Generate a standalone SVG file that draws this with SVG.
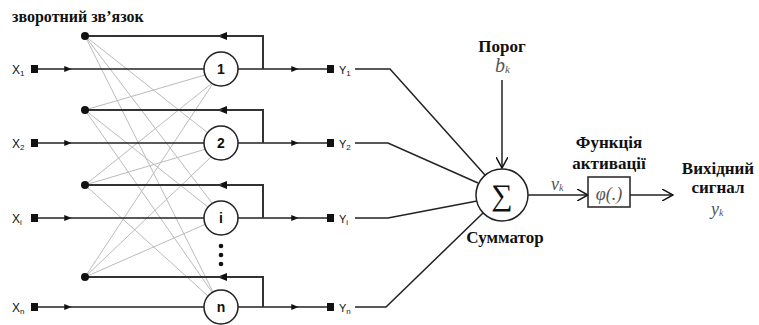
<svg xmlns="http://www.w3.org/2000/svg" width="759" height="325" viewBox="0 0 759 325">
<defs>
<marker id="sa" viewBox="0 0 10 10" refX="5" refY="5" markerWidth="5" markerHeight="5" orient="auto"><path d="M0,1 L10,5 L0,9 z" fill="#111"/></marker>
<marker id="ba" viewBox="0 0 12 12" refX="11" refY="6" markerWidth="12" markerHeight="12" markerUnits="userSpaceOnUse" orient="auto"><path d="M0,0 L11,6 L0,12" fill="none" stroke="#111" stroke-width="1.5"/></marker>
</defs>
<style>
.ln{stroke:#222;stroke-width:1.5;fill:none}
.fb{stroke:#333;stroke-width:2;fill:none}
.gr{stroke:#bbb;stroke-width:1;fill:none}
.nc{fill:#fff;stroke:#222;stroke-width:1.5}
.sans{fill:#111}
.nl{font-weight:bold;font-size:14px;fill:#111;text-anchor:middle}
.bt{font-weight:bold;fill:#111}
.it{font-style:italic;fill:#555}
.sq{fill:#111}
.ser{font-family:'Liberation Serif','Times New Roman','DejaVu Serif','Noto Serif',serif}
</style>
<rect width="759" height="325" fill="#fff"/>
<text class="bt ser" x="12" y="22" font-size="16">зворотний зв’язок</text>
<g id="connectors">
<line class="gr" x1="85" y1="36" x2="208" y2="133"/>
<line class="gr" x1="85" y1="36" x2="212" y2="203"/>
<line class="gr" x1="85" y1="36" x2="213" y2="292"/>
<line class="gr" x1="85" y1="110" x2="205" y2="75"/>
<line class="gr" x1="85" y1="110" x2="208" y2="207"/>
<line class="gr" x1="85" y1="110" x2="212" y2="292"/>
<line class="gr" x1="85" y1="185" x2="211" y2="84"/>
<line class="gr" x1="85" y1="185" x2="206" y2="149"/>
<line class="gr" x1="85" y1="185" x2="208" y2="296"/>
<line class="gr" x1="85" y1="277" x2="212" y2="85"/>
<line class="gr" x1="85" y1="277" x2="211" y2="157"/>
<line class="gr" x1="85" y1="277" x2="206" y2="224"/>
<path class="ln" d="M38,69 L68,69" marker-end="url(#sa)"/><path class="ln" d="M68,69 L204,69"/>
<path class="ln" d="M38,143 L68,143" marker-end="url(#sa)"/><path class="ln" d="M68,143 L204,143"/>
<path class="ln" d="M38,218 L68,218" marker-end="url(#sa)"/><path class="ln" d="M68,218 L204,218"/>
<path class="ln" d="M38,307 L68,307" marker-end="url(#sa)"/><path class="ln" d="M68,307 L204,307"/>
<path class="ln" d="M238,69 L295,69" marker-end="url(#sa)"/><path class="ln" d="M295,69 L328,69"/>
<path class="ln" d="M238,143 L295,143" marker-end="url(#sa)"/><path class="ln" d="M295,143 L328,143"/>
<path class="ln" d="M238,218 L295,218" marker-end="url(#sa)"/><path class="ln" d="M295,218 L328,218"/>
<path class="ln" d="M238,307 L295,307" marker-end="url(#sa)"/><path class="ln" d="M295,307 L328,307"/>
<path class="fb" d="M263,69 L263,36 L222,36" marker-end="url(#sa)"/><path class="fb" d="M222,36 L85,36"/>
<path class="fb" d="M263,143 L263,110 L222,110" marker-end="url(#sa)"/><path class="fb" d="M222,110 L85,110"/>
<path class="fb" d="M263,218 L263,185 L222,185" marker-end="url(#sa)"/><path class="fb" d="M222,185 L85,185"/>
<path class="fb" d="M263,307 L263,277 L222,277" marker-end="url(#sa)"/><path class="fb" d="M222,277 L85,277"/>
<path class="ln" d="M355,69 L390,69 L485,175"/>
<path class="ln" d="M355,143 L388,143 L478,183"/>
<path class="ln" d="M355,218 L388,218 L477,201"/>
<path class="ln" d="M355,307 L386,307 L483,213"/>
<path class="ln" d="M502,80 L502,168" marker-end="url(#ba)"/>
<path class="ln" d="M528,195 L588,195" marker-end="url(#ba)"/>
<path class="ln" d="M630,195 L673,195" marker-end="url(#ba)"/>
</g>
<g id="dots">
<circle cx="85" cy="36" r="4" fill="#111"/>
<circle cx="85" cy="110" r="4" fill="#111"/>
<circle cx="85" cy="185" r="4" fill="#111"/>
<circle cx="85" cy="277" r="4" fill="#111"/>
<circle cx="221" cy="246" r="2.3" fill="#111"/>
<circle cx="221" cy="255" r="2.3" fill="#111"/>
<circle cx="221" cy="264" r="2.3" fill="#111"/>
</g>
<g id="inputs" font-family="Liberation Sans, Arial, sans-serif">
<rect class="sq" x="31" y="65" width="7" height="8"/>
<rect class="sq" x="31" y="139" width="7" height="8"/>
<rect class="sq" x="31" y="214" width="7" height="8"/>
<rect class="sq" x="31" y="303" width="7" height="8"/>
<text class="sans" x="12" y="74" font-size="12">X<tspan font-size="8" dy="2">1</tspan></text>
<text class="sans" x="12" y="148" font-size="12">X<tspan font-size="8" dy="2">2</tspan></text>
<text class="sans" x="12" y="223" font-size="12">X<tspan font-size="8" dy="2">i</tspan></text>
<text class="sans" x="12" y="312" font-size="12">X<tspan font-size="8" dy="2">n</tspan></text>
</g>
<g id="outputs" font-family="Liberation Sans, Arial, sans-serif">
<rect class="sq" x="327" y="65" width="7" height="8"/>
<rect class="sq" x="327" y="139" width="7" height="8"/>
<rect class="sq" x="327" y="214" width="7" height="8"/>
<rect class="sq" x="327" y="303" width="7" height="8"/>
<text class="sans" x="339" y="74" font-size="11">Y<tspan font-size="8" dy="2">1</tspan></text>
<text class="sans" x="339" y="148" font-size="11">Y<tspan font-size="8" dy="2">2</tspan></text>
<text class="sans" x="339" y="223" font-size="11">Y<tspan font-size="8" dy="2">i</tspan></text>
<text class="sans" x="339" y="312" font-size="11">Y<tspan font-size="8" dy="2">n</tspan></text>
</g>
<g font-family="Liberation Sans, Arial, sans-serif">
<g id="n1"><circle class="nc" cx="221" cy="69" r="17"/><text class="nl" x="221" y="74">1</text></g>
<g id="n2"><circle class="nc" cx="221" cy="143" r="17"/><text class="nl" x="221" y="148">2</text></g>
<g id="ni"><circle class="nc" cx="221" cy="218" r="17"/><text class="nl" x="221" y="223">i</text></g>
<g id="nn"><circle class="nc" cx="221" cy="307" r="17"/><text class="nl" x="221" y="312">n</text></g>
</g>
<g id="summator">
<circle class="nc" cx="502" cy="195" r="26"/>
<text class="ser" x="502" y="205" font-size="30" text-anchor="middle" fill="#111">∑</text>
<text class="bt ser" x="505" y="243" font-size="17" text-anchor="middle">Сумматор</text>
</g>
<g id="threshold">
<text class="bt ser" x="502" y="52" font-size="17" text-anchor="middle">Порог</text>
<text class="it ser" x="495" y="72" font-size="20">b<tspan font-size="11" dy="1">k</tspan></text>
</g>
<text class="it ser" x="551" y="190" font-size="18">v<tspan font-size="10" dy="1">k</tspan></text>
<g id="activation">
<rect x="588" y="177" width="42" height="30" fill="#fff" stroke="#222" stroke-width="1.5"/>
<text class="it ser" x="609" y="200" font-size="18" text-anchor="middle" fill="#333">φ(.)</text>
<text class="bt ser" x="609" y="148" font-size="17" text-anchor="middle">Функція</text>
<text class="bt ser" x="609" y="169" font-size="17" text-anchor="middle">активації</text>
</g>
<g id="output">
<text class="bt ser" x="718" y="174" font-size="17" text-anchor="middle">Вихідний</text>
<text class="bt ser" x="718" y="193" font-size="17" text-anchor="middle">сигнал</text>
<text class="it ser" x="711" y="215" font-size="18">y<tspan font-size="10" dy="1">k</tspan></text>
</g>
</svg>
